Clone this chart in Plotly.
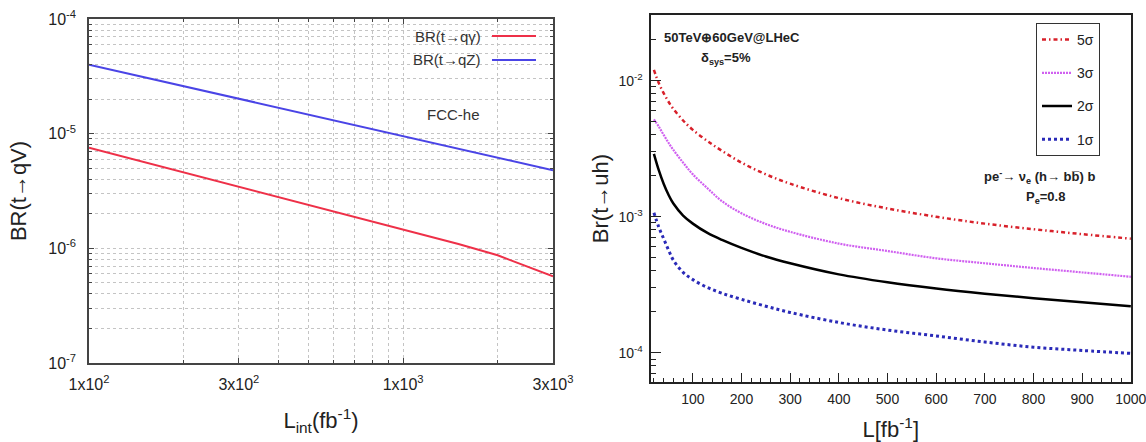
import plotly.graph_objects as go

W, H = 1146, 442

# ---------------- left panel data ----------------
L_int = [100, 200, 300, 500, 1000, 1500, 2000, 2500, 3000]
br_qgamma = [7.55e-6, 4.61e-6, 3.46e-6, 2.39e-6, 1.46e-6, 1.09e-6, 8.7e-7, 6.9e-7, 5.7e-7]
br_qZ = [4.0e-5, 2.59e-5, 2.02e-5, 1.47e-5, 9.52e-6, 7.42e-6, 6.16e-6, 5.34e-6, 4.8e-6]
left_xtickvals = [100, 300, 1000, 3000]
left_xticktext = ["1x10<sup>2</sup>", "3x10<sup>2</sup>", "1x10<sup>3</sup>", "3x10<sup>3</sup>"]
left_ytickvals = [1e-7, 1e-6, 1e-5, 1e-4]
left_yticktext = ["10<sup>-7</sup>", "10<sup>-6</sup>", "10<sup>-5</sup>", "10<sup>-4</sup>"]

# ---------------- right panel data ----------------
L = [20, 30, 40, 50, 60, 80, 100, 130, 160, 200, 250, 300, 400, 500, 600, 700, 800, 900, 1000]
sig5 = [1.2e-2, 9.6e-3, 8.1e-3, 7.0e-3, 6.2e-3, 5.1e-3, 4.35e-3, 3.6e-3, 3.05e-3, 2.5e-3,
        2.05e-3, 1.75e-3, 1.37e-3, 1.15e-3, 1.0e-3, 8.9e-4, 8.1e-4, 7.45e-4, 6.9e-4]
sig3 = [5.2e-3, 4.6e-3, 4.0e-3, 3.5e-3, 3.1e-3, 2.5e-3, 2.05e-3, 1.62e-3, 1.3e-3, 1.06e-3,
        8.85e-4, 7.75e-4, 6.35e-4, 5.6e-4, 4.95e-4, 4.55e-4, 4.2e-4, 3.9e-4, 3.62e-4]
sig2 = [2.9e-3, 2.2e-3, 1.75e-3, 1.45e-3, 1.25e-3, 1.02e-3, 8.9e-4, 7.6e-4, 6.75e-4, 5.9e-4,
        5.1e-4, 4.55e-4, 3.77e-4, 3.3e-4, 2.97e-4, 2.72e-4, 2.52e-4, 2.35e-4, 2.2e-4]
sig1 = [1.07e-3, 8.4e-4, 6.9e-4, 5.7e-4, 4.8e-4, 3.9e-4, 3.45e-4, 3.02e-4, 2.74e-4, 2.47e-4,
        2.2e-4, 1.98e-4, 1.67e-4, 1.47e-4, 1.33e-4, 1.2e-4, 1.1e-4, 1.04e-4, 9.9e-5]
right_xtickvals = [100, 200, 300, 400, 500, 600, 700, 800, 900, 1000]
right_ytickvals = [1e-4, 1e-3, 1e-2]
right_yticktext = ["10<sup>-4</sup>", "10<sup>-3</sup>", "10<sup>-2</sup>"]

FONT = "Liberation Sans, Arial, Helvetica, sans-serif"


def px(x):
    return x / W


def py(y):
    return 1 - y / H


def log_minors(lo_exp, hi_exp):
    return [m * 10 ** e for e in range(lo_exp, hi_exp) for m in range(2, 10)]


fig = go.Figure()

RED_L = "#ee3048"
BLUE_L = "#4a44e6"

fig.add_trace(go.Scatter(x=L_int, y=br_qgamma, mode="lines", name="BR(t→qγ)",
                         line=dict(color=RED_L, width=2), xaxis="x", yaxis="y", showlegend=False))
fig.add_trace(go.Scatter(x=L_int, y=br_qZ, mode="lines", name="BR(t→qZ)",
                         line=dict(color=BLUE_L, width=2), xaxis="x", yaxis="y", showlegend=False))

right_series = [
    ("5σ", sig5, dict(color="#d8202a", width=2.5, dash="4px,3px,1.5px,3px")),
    ("3σ", sig3, dict(color="#d060f0", width=2.2, dash="2px,1px")),
    ("2σ", sig2, dict(color="black", width=2.5)),
    ("1σ", sig1, dict(color="#2a2ab8", width=3, dash="3px,3px")),
]
for i, (nm, ys, ln) in enumerate(right_series):
    fig.add_trace(go.Scatter(x=L, y=ys, mode="lines", name=nm, line=dict(shape="spline", **ln),
                             xaxis="x2", yaxis="y2", legendgroup=f"g{i}"))

grid_l = dict(showgrid=True, gridcolor="#c4c4c4", griddash="dot", gridwidth=1)

fig.update_layout(
    width=W, height=H,
    margin=dict(l=0, r=0, t=0, b=0, autoexpand=False),
    paper_bgcolor="white", plot_bgcolor="white",
    font=dict(family=FONT, color="#222"),
    xaxis=dict(
        domain=[px(89), px(553)], anchor="y", type="log", automargin=False,
        range=[2, 3.4771213],
        tickmode="array", tickvals=left_xtickvals, ticktext=left_xticktext,
        tickfont=dict(size=16, color="#222"), ticks="inside", ticklen=5, tickcolor="#444",
        ticklabelstandoff=6, ticklabeloverflow="allow",
        showline=True, linecolor="#444", linewidth=1.5, mirror="allticks",
        minor=dict(tickvals=[200, 400, 500, 600, 700, 800, 900, 2000], ticks="inside",
                   ticklen=3, tickcolor="#444", **grid_l),
        zeroline=False,
        title=dict(text="L<sub>int</sub>(fb<sup>-1</sup>)", font=dict(size=22, color="#222"), standoff=21),
        **grid_l,
    ),
    yaxis=dict(
        domain=[py(363), py(19)], anchor="x", type="log", automargin=False,
        range=[-7, -4],
        tickmode="array", tickvals=left_ytickvals, ticktext=left_yticktext,
        tickfont=dict(size=16, color="#222"), ticks="inside", ticklen=5, tickcolor="#444",
        ticklabelstandoff=8, ticklabeloverflow="allow",
        showline=True, linecolor="#444", linewidth=1.5, mirror="allticks",
        minor=dict(tickvals=log_minors(-7, -4), ticks="inside", ticklen=3, tickcolor="#444", **grid_l),
        zeroline=False,
        title=dict(text="BR(t→qV)", font=dict(size=22, color="#222"), standoff=16),
        **grid_l,
    ),
    xaxis2=dict(
        domain=[px(650.5), px(1131)], anchor="y2", type="linear", automargin=False,
        range=[13, 1000.4],
        tickmode="array", tickvals=right_xtickvals,
        tickfont=dict(size=14, color="#222"), ticks="inside", ticklen=9, tickcolor="#222",
        ticklabelstandoff=3, ticklabeloverflow="allow",
        showline=True, linecolor="#222", linewidth=2, mirror=True,
        minor=dict(dtick=20, tick0=0, ticks="inside", ticklen=4, tickcolor="#222"),
        showgrid=False, zeroline=False,
        title=dict(text="L[fb<sup>-1</sup>]", font=dict(size=22, color="#222"), standoff=16),
    ),
    yaxis2=dict(
        domain=[py(382), py(15)], anchor="x2", type="log", automargin=False,
        range=[-4.2147, -1.5171],
        tickmode="array", tickvals=right_ytickvals, ticktext=right_yticktext,
        tickfont=dict(size=14, color="#222"), ticks="inside", ticklen=10, tickcolor="#222",
        ticklabelstandoff=3, ticklabeloverflow="allow",
        showline=True, linecolor="#222", linewidth=2, mirror=True,
        minor=dict(tickvals=[v for v in log_minors(-5, -1) if 6.1e-5 < v < 3.05e-2],
                   ticks="inside", ticklen=5, tickcolor="#222"),
        showgrid=False, zeroline=False,
        title=dict(text="Br(t→uh)", font=dict(size=22, color="#222"), standoff=4),
    ),
    legend=dict(
        x=px(1036), y=py(23), xanchor="left", yanchor="top",
        bgcolor="white", bordercolor="#333", borderwidth=1,
        font=dict(size=14, color="#222", family=FONT),
        tracegroupgap=12, itemwidth=30,
    ),
)

# Left-panel legend (text left of the line sample, as in the original)
for name, color, yy in [("BR(t→qγ)", RED_L, 36), ("BR(t→qZ)", BLUE_L, 60)]:
    fig.add_annotation(x=px(483), y=py(yy), xref="paper", yref="paper", text=name,
                       showarrow=False, xanchor="right", yanchor="middle",
                       font=dict(size=15, color="#333"))
    fig.add_shape(type="line", xref="paper", yref="paper", x0=px(492), x1=px(536),
                  y0=py(yy), y1=py(yy), line=dict(color=color, width=2))

fig.add_annotation(x=px(453), y=py(115), xref="paper", yref="paper", text="FCC-he",
                   showarrow=False, xanchor="center", yanchor="middle",
                   font=dict(size=15, color="#333"))

fig.add_annotation(x=px(662), y=py(37), xref="paper", yref="paper",
                   text="<b>50TeV⊕60GeV@LHeC</b>", showarrow=False,
                   xanchor="left", yanchor="middle", font=dict(size=13, color="#222"))
fig.add_annotation(x=px(699), y=py(59), xref="paper", yref="paper",
                   text="<b>δ<sub>sys</sub>=5%</b>", showarrow=False,
                   xanchor="left", yanchor="middle", font=dict(size=13, color="#222"))
fig.add_annotation(x=px(982), y=py(177), xref="paper", yref="paper",
                   text="<b>pe<sup>-</sup>→ ν<sub>e</sub> (h→ bb\u0305) b</b>", showarrow=False,
                   xanchor="left", yanchor="middle", font=dict(size=13, color="#222"))
fig.add_annotation(x=px(1045), y=py(197), xref="paper", yref="paper",
                   text="<b>P<sub>e</sub>=0.8</b>", showarrow=False,
                   xanchor="center", yanchor="middle", font=dict(size=13, color="#222"))

fig.write_html(
    "out.html",
    config={"displayModeBar": False},
    post_script="document.body.style.margin='0';document.body.style.overflow='hidden';",
)
